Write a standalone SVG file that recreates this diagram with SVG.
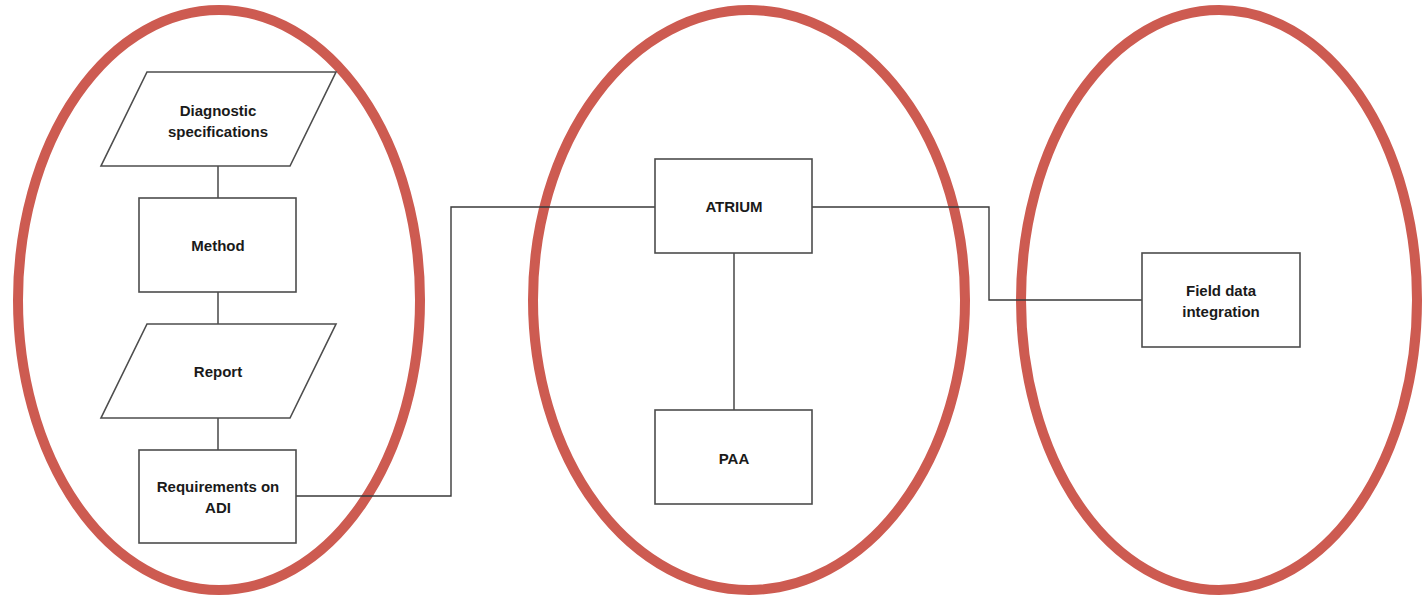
<svg xmlns="http://www.w3.org/2000/svg" width="1422" height="599" viewBox="0 0 1422 599">
  <style>
    .zone { fill: none; stroke: #cd5b51; stroke-width: 10; }
    .box { fill: #ffffff; stroke: #4d4d4d; stroke-width: 1.6; }
    .wire { fill: none; stroke: #3a3a3a; stroke-width: 1.4; }
    .lbl { font-family: "Liberation Sans", Arial, sans-serif; font-weight: bold; font-size: 15px; fill: #1a1a1a; text-anchor: middle; dominant-baseline: central; }
  </style>
  <rect width="1422" height="599" fill="#ffffff"/>

  <!-- grouping zones -->
  <g id="zones">
    <ellipse class="zone" cx="219" cy="300" rx="201" ry="290"/>
    <ellipse class="zone" cx="749" cy="300" rx="216" ry="290"/>
    <ellipse class="zone" cx="1219" cy="300" rx="198" ry="290"/>
  </g>

  <!-- connectors -->
  <g id="connectors">
    <line class="wire" x1="218" y1="166" x2="218" y2="198"/>
    <line class="wire" x1="218" y1="292" x2="218" y2="324"/>
    <line class="wire" x1="218" y1="418" x2="218" y2="450"/>
    <polyline class="wire" points="296,496 451,496 451,207 655,207"/>
    <line class="wire" x1="734" y1="253" x2="734" y2="410"/>
    <polyline class="wire" points="812,207 989,207 989,300 1142,300"/>
  </g>

  <g id="diagnostic-specifications">
    <polygon class="box" points="147,72 336,72 290,166 101,166"/>
    <text class="lbl" x="218" y="110">Diagnostic</text>
    <text class="lbl" x="218" y="131">specifications</text>
  </g>

  <g id="method">
    <rect class="box" x="139" y="198" width="157" height="94"/>
    <text class="lbl" x="218" y="245">Method</text>
  </g>

  <g id="report">
    <polygon class="box" points="147,324 336,324 290,418 101,418"/>
    <text class="lbl" x="218" y="371">Report</text>
  </g>

  <g id="requirements-on-adi">
    <rect class="box" x="139" y="450" width="157" height="93"/>
    <text class="lbl" x="218" y="486">Requirements on</text>
    <text class="lbl" x="218" y="507">ADI</text>
  </g>

  <g id="atrium">
    <rect class="box" x="655" y="159" width="157" height="94"/>
    <text class="lbl" x="734" y="206">ATRIUM</text>
  </g>

  <g id="paa">
    <rect class="box" x="655" y="410" width="157" height="94"/>
    <text class="lbl" x="734" y="458">PAA</text>
  </g>

  <g id="field-data-integration">
    <rect class="box" x="1142" y="253" width="158" height="94"/>
    <text class="lbl" x="1221" y="290">Field data</text>
    <text class="lbl" x="1221" y="311">integration</text>
  </g>
</svg>
